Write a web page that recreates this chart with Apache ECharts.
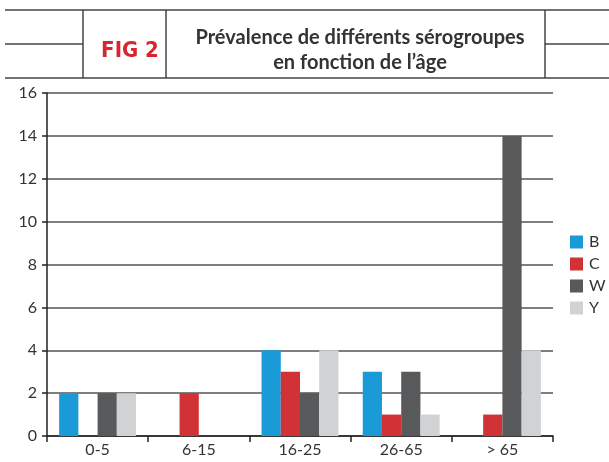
<!DOCTYPE html>
<html>
<head>
<meta charset="utf-8">
<script src="https://cdn.jsdelivr.net/npm/echarts@6/dist/echarts.min.js"></script>
<style>
  html, body { margin: 0; padding: 0; background: #fff; }
  #chart { width: 609px; height: 462px; }
</style>
</head>
<body>
<div id="chart"></div>
<script>
// tranches d'âge et nombre de cas par sérogroupe
var categories = ['0-5', '6-15', '16-25', '26-65', '> 65'];
var serB = [2, 0, 4, 3, 0];
var serC = [0, 2, 3, 1, 1];
var serW = [2, 0, 2, 3, 14];
var serY = [2, 0, 4, 1, 4];
var yTicks = [0, 2, 4, 6, 8, 10, 12, 14, 16];

var colors = ['#1a9bd7', '#d03236', '#58595b', '#d1d2d4'];
var font = 'Lato';

var myChart = echarts.init(document.getElementById('chart'));

function bar(name, data) {
	return {
		name: name,
		type: 'bar',
		data: data,
		barGap: '0%',
		barCategoryGap: '24%'
	};
}

var lineStyle = { stroke: '#444', lineWidth: 1.5 };

myChart.setOption({
	color: colors,
	animation: false,
	title: [
		{
			text: 'FIG 2',
			left: 125, top: 46,
			textAlign: 'center', textVerticalAlign: 'middle',
			textStyle: { color: '#d8262e', fontSize: 22, fontWeight: 'bold', fontFamily: '"DejaVu Sans Condensed", "DejaVu Sans", sans-serif' }
		},
		{
			text: 'Prévalence de différents sérogroupes\nen fonction de l\u2019âge',
			left: 355, top: 45,
			textAlign: 'center', textVerticalAlign: 'middle',
			textStyle: { color: '#333', fontSize: 20, fontWeight: 'bold', fontFamily: font, lineHeight: 25 }
		}
	],
	graphic: [
		{ type: 'line', shape: { x1: 5, y1: 10, x2: 609, y2: 10 }, style: lineStyle },
		{ type: 'line', shape: { x1: 5, y1: 78, x2: 609, y2: 78 }, style: lineStyle },
		{ type: 'line', shape: { x1: 5, y1: 44, x2: 83, y2: 44 }, style: lineStyle },
		{ type: 'line', shape: { x1: 545, y1: 44, x2: 609, y2: 44 }, style: lineStyle },
		{ type: 'line', shape: { x1: 83, y1: 10, x2: 83, y2: 78 }, style: lineStyle },
		{ type: 'line', shape: { x1: 166, y1: 10, x2: 166, y2: 78 }, style: lineStyle },
		{ type: 'line', shape: { x1: 545, y1: 10, x2: 545, y2: 78 }, style: lineStyle }
	],
	legend: {
		orient: 'vertical',
		left: 570, top: 234,
		padding: 0,
		itemWidth: 13, itemHeight: 13,
		itemGap: 6,
		icon: 'rect',
		textStyle: { fontSize: 16, color: '#333', fontFamily: font, padding: [0, 0, 0, 1] },
		data: ['B', 'C', 'W', 'Y']
	},
	grid: { left: 47, right: 56, top: 93, bottom: 26 },
	xAxis: {
		type: 'category',
		data: categories,
		axisLine: { lineStyle: { color: '#222', width: 1.5 } },
		axisTick: { show: true, length: 6, inside: false, lineStyle: { color: '#222', width: 1.5 } },
		axisLabel: { fontSize: 16, color: '#333', fontFamily: font, margin: 6 }
	},
	yAxis: {
		type: 'value',
		min: yTicks[0],
		max: yTicks[yTicks.length - 1],
		interval: 2,
		axisLine: { show: true, lineStyle: { color: '#222', width: 1.5 } },
		axisTick: { show: true, length: 5, lineStyle: { color: '#222', width: 1.5 } },
		axisLabel: { fontSize: 16, color: '#333', fontFamily: font, margin: 10 },
		splitLine: { lineStyle: { color: '#555', width: 1.5 } }
	},
	series: [bar('B', serB), bar('C', serC), bar('W', serW), bar('Y', serY)]
});
</script>
</body>
</html>
